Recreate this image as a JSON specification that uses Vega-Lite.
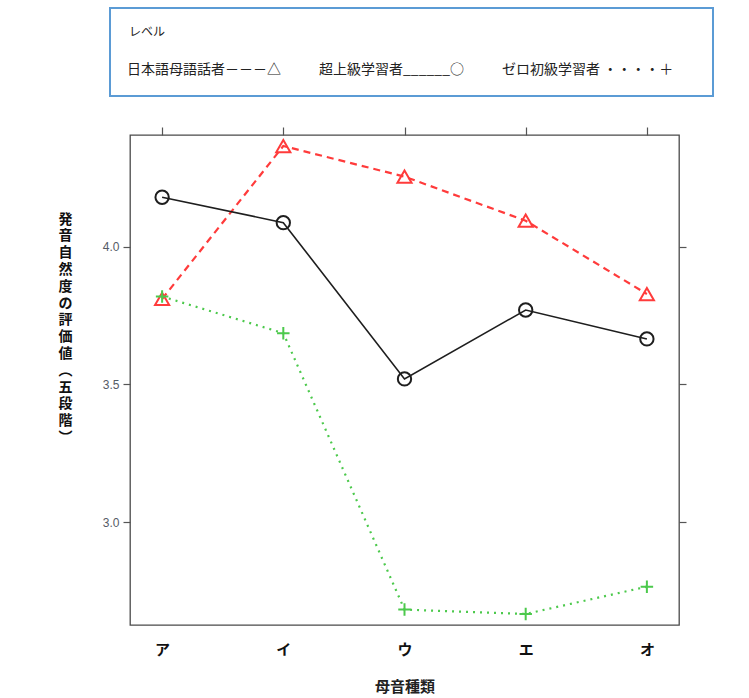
{
  "$schema": "https://vega.github.io/schema/vega-lite/v6.json",
  "width": 549,
  "height": 490,
  "autosize": "none",
  "padding": {"left": 130, "top": 135, "right": 70, "bottom": 73},
  "background": "white",
  "config": {
    "font": "Noto Sans CJK JP",
    "view": {"stroke": "#4a4a4a", "strokeWidth": 1.3}
  },
  "data": {
    "values": [
      {"vowel": "ア", "level": "日本語母語話者", "score": 3.81},
      {"vowel": "イ", "level": "日本語母語話者", "score": 4.365},
      {"vowel": "ウ", "level": "日本語母語話者", "score": 4.254},
      {"vowel": "エ", "level": "日本語母語話者", "score": 4.094},
      {"vowel": "オ", "level": "日本語母語話者", "score": 3.828},
      {"vowel": "ア", "level": "超上級学習者", "score": 4.179},
      {"vowel": "イ", "level": "超上級学習者", "score": 4.087},
      {"vowel": "ウ", "level": "超上級学習者", "score": 3.52},
      {"vowel": "エ", "level": "超上級学習者", "score": 3.77},
      {"vowel": "オ", "level": "超上級学習者", "score": 3.665},
      {"vowel": "ア", "level": "ゼロ初級学習者", "score": 3.819},
      {"vowel": "イ", "level": "ゼロ初級学習者", "score": 3.686},
      {"vowel": "ウ", "level": "ゼロ初級学習者", "score": 2.683},
      {"vowel": "エ", "level": "ゼロ初級学習者", "score": 2.667},
      {"vowel": "オ", "level": "ゼロ初級学習者", "score": 2.766}
    ]
  },
  "layer": [
    {
      "transform": [{"filter": "datum.level == '日本語母語話者'"}],
      "mark": {"type": "line", "strokeDash": [7, 5], "strokeWidth": 2.2, "strokeCap": "butt"},
      "encoding": {
        "x": {
          "field": "vowel", "type": "nominal",
          "scale": {"type": "point", "padding": 0.265, "domain": ["ア", "イ", "ウ", "エ", "オ"]},
          "axis": {
            "orient": "bottom", "title": "母音種類", "labelAngle": 0,
            "ticks": false, "domain": false, "labelPadding": 17,
            "labelFontSize": 15, "labelColor": "#111", "labelFontWeight": "bold",
            "titleFontSize": 15, "titleColor": "#222", "titleFontWeight": "bold", "titlePadding": 22
          }
        },
        "y": {
          "field": "score", "type": "quantitative",
          "scale": {"domain": [2.627, 4.405], "nice": false, "zero": false},
          "axis": {
            "orient": "left", "values": [3.0, 3.5, 4.0], "format": ".1f",
            "grid": false, "domain": false, "tickSize": 7, "tickColor": "#555", "tickWidth": 1.2,
            "labelFontSize": 12, "labelColor": "#555b66", "labelPadding": 4, "labelFont": "Liberation Sans",
            "title": ["発", "音", "自", "然", "度", "の", "評", "価", "値", "︵", "五", "段", "階", "︶"],
            "titleAngle": 0, "titleAlign": "center", "titleBaseline": "top",
            "titleX": -65, "titleY": 77, "titleLineHeight": 16.8,
            "titleFontSize": 14, "titleFontWeight": "bold", "titleColor": "#111"
          }
        },
        "color": {
          "field": "level", "type": "nominal",
          "scale": {"domain": ["日本語母語話者", "超上級学習者", "ゼロ初級学習者"], "range": ["#ff3b3b", "#1e1e1e", "#4cc94c"]},
          "legend": {
            "orient": "none", "legendX": -20, "legendY": -127,
            "direction": "horizontal", "title": "レベル",
            "titleFontSize": 12, "titleFontWeight": "normal", "titleColor": "#222", "titlePadding": 23,
            "labelExpr": "datum.label == '日本語母語話者' ? '日本語母語話者－－－△' : datum.label == '超上級学習者' ? '超上級学習者______○' : 'ゼロ初級学習者 ・・・・＋⠀⠀'",
            "labelFontSize": 14, "labelColor": "#222", "labelOffset": -18, "labelLimit": 400,
            "symbolSize": 0, "symbolOpacity": 0,
            "columnPadding": 38, "padding": 19,
            "strokeColor": "#5b9bd5", "fillColor": "white",
            "encode": {"legend": {"update": {"strokeWidth": {"value": 2}}}}
          }
        }
      }
    },
    {
      "transform": [{"filter": "datum.level == '超上級学習者'"}],
      "mark": {"type": "line", "strokeWidth": 1.6},
      "encoding": {
        "x": {"field": "vowel", "type": "nominal", "axis": null},
        "y": {"field": "score", "type": "quantitative", "axis": null},
        "color": {"field": "level", "type": "nominal", "legend": null}
      }
    },
    {
      "transform": [{"filter": "datum.level == 'ゼロ初級学習者'"}],
      "mark": {"type": "line", "strokeDash": [2, 5], "strokeWidth": 2.2, "strokeCap": "butt"},
      "encoding": {
        "x": {"field": "vowel", "type": "nominal", "axis": null},
        "y": {"field": "score", "type": "quantitative", "axis": null},
        "color": {"field": "level", "type": "nominal", "legend": null}
      }
    },
    {
      "mark": {"type": "point", "filled": false, "strokeWidth": 2, "opacity": 1},
      "encoding": {
        "x": {
          "field": "vowel", "type": "nominal",
          "axis": {"orient": "top", "labels": false, "title": null, "domain": false, "tickSize": 8, "tickColor": "#555", "tickWidth": 1.2}
        },
        "y": {
          "field": "score", "type": "quantitative",
          "axis": {"orient": "right", "values": [3.0, 3.5, 4.0], "labels": false, "title": null, "grid": false, "domain": false, "tickSize": 7, "tickColor": "#555", "tickWidth": 1.2}
        },
        "color": {"field": "level", "type": "nominal", "legend": null},
        "shape": {
          "field": "level", "type": "nominal",
          "scale": {"domain": ["日本語母語話者", "超上級学習者", "ゼロ初級学習者"], "range": ["triangle-up", "circle", "M-1,0H1M0,-1V1"]},
          "legend": null
        },
        "size": {
          "field": "level", "type": "nominal",
          "scale": {"domain": ["日本語母語話者", "超上級学習者", "ゼロ初級学習者"], "range": [200, 156, 324]},
          "legend": null
        }
      }
    }
  ],
  "resolve": {"axis": {"x": "independent", "y": "independent"}}
}
